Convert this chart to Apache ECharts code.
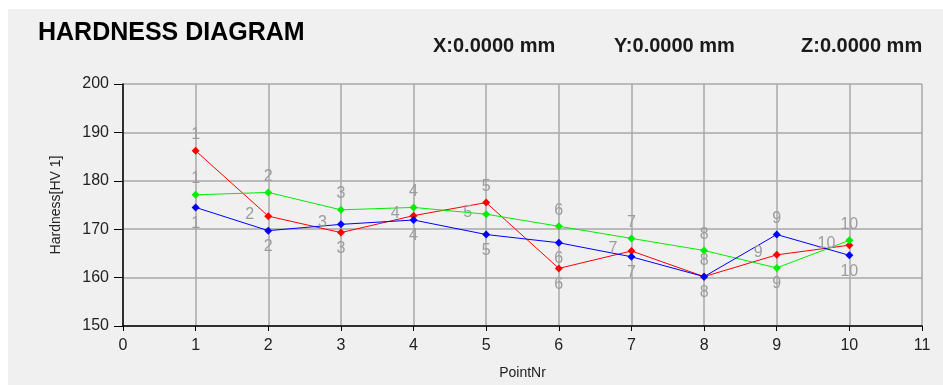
<!DOCTYPE html>
<html>
<head>
<meta charset="utf-8">
<title>Hardness diagram</title>
<script src="https://cdn.jsdelivr.net/npm/echarts@6/dist/echarts.min.js"></script>
<style>
  html, body { margin: 0; padding: 0; background: #ffffff; }
  #chart { width: 943px; height: 385px; }
</style>
</head>
<body>
<div id="chart"></div>
<script>
// Measurement points along the specimen
const pointNr = [1, 2, 3, 4, 5, 6, 7, 8, 9, 10];

// Hardness readings (HV 1) for the three traverses
const redSeries   = [186.2, 172.7, 169.3, 172.8, 175.5, 161.9, 165.5, 160.2, 164.7, 166.7];
const greenSeries = [177.1, 177.6, 174.0, 174.5, 173.1, 170.6, 168.1, 165.6, 162.0, 167.7];
const blueSeries  = [174.5, 169.7, 171.0, 171.9, 168.9, 167.2, 164.3, 160.2, 168.9, 164.6];

// Axis ticks
const xTicks = [0, 1, 2, 3, 4, 5, 6, 7, 8, 9, 10, 11];
const yTicks = [150, 160, 170, 180, 190, 200];

// Where each point-number label sits relative to its marker
const redLabelPos   = ['top', 'left', 'bottom', 'left', 'top', 'bottom', 'left', 'top', 'left', 'left'];
const greenLabelPos = ['top', 'top', 'top', 'top', 'left', 'top', 'top', 'top', 'bottom', 'top'];
const blueLabelPos  = ['bottom', 'bottom', 'left', 'bottom', 'bottom', 'bottom', 'bottom', 'bottom', 'top', 'bottom'];

const FONT = '"Liberation Sans", Arial, sans-serif';

function buildSeries(name, values, color, positions) {
  return {
    name: name,
    type: 'line',
    symbol: 'diamond',
    symbolSize: 8,
    lineStyle: { color: color, width: 1 },
    itemStyle: { color: color },
    emphasis: { disabled: true },
    animation: false,
    data: values.map(function (v, i) {
      const pos = positions[i];
      return {
        value: [pointNr[i], v],
        label: {
          show: true,
          position: pos,
          distance: pos === 'left' ? 10 : 4,
          offset: pos === 'left' ? [0, -2] : [0, 0],
          formatter: String(pointNr[i]),
          color: '#9c9c9c',
          fontSize: 16,
          fontFamily: FONT,
          textBorderWidth: 0
        }
      };
    })
  };
}

const chart = echarts.init(document.getElementById('chart'), null, { renderer: 'canvas' });

chart.setOption({
  backgroundColor: '#ffffff',
  animation: false,
  graphic: [
    {
      type: 'rect',
      z: -10,
      silent: true,
      shape: { x: 8, y: 9, width: 935, height: 376 },
      style: { fill: '#f0f0f0' }
    },
    {
      type: 'text', left: 433, top: 36,
      style: { text: 'X:0.0000 mm', font: 'bold 20px ' + FONT, fill: '#1a1a1a' }
    },
    {
      type: 'text', left: 614, top: 36,
      style: { text: 'Y:0.0000 mm', font: 'bold 20px ' + FONT, fill: '#1a1a1a' }
    },
    {
      type: 'text', left: 801, top: 36,
      style: { text: 'Z:0.0000 mm', font: 'bold 20px ' + FONT, fill: '#1a1a1a' }
    }
  ],
  title: {
    text: 'HARDNESS DIAGRAM',
    left: 38,
    top: 21,
    padding: 0,
    textStyle: { fontSize: 25, fontWeight: 'bold', color: '#000000', fontFamily: FONT }
  },
  grid: { left: 123, top: 84, width: 799, height: 245, containLabel: false },
  xAxis: {
    type: 'value',
    min: xTicks[0],
    max: xTicks[xTicks.length - 1],
    interval: 1,
    name: 'PointNr',
    nameLocation: 'middle',
    nameGap: 40,
    nameTextStyle: { fontSize: 14, color: '#222222', fontFamily: FONT },
    axisLine: { show: true, onZero: false, lineStyle: { color: '#000000', width: 1.5 } },
    axisTick: { show: true, length: 5, lineStyle: { color: '#000000' } },
    axisLabel: { fontSize: 16, color: '#222222', fontFamily: FONT, margin: 12 },
    splitLine: { show: true, lineStyle: { color: '#a8a8a8', width: 1.5 } }
  },
  yAxis: {
    type: 'value',
    min: yTicks[0],
    max: yTicks[yTicks.length - 1],
    interval: 10,
    name: 'Hardness[HV 1]',
    nameLocation: 'middle',
    nameGap: 60,
    nameTextStyle: { fontSize: 14, color: '#222222', fontFamily: FONT },
    axisLine: { show: true, lineStyle: { color: '#000000', width: 1.5 } },
    axisTick: { show: true, length: 9, lineStyle: { color: '#000000' } },
    axisLabel: { fontSize: 16, color: '#222222', fontFamily: FONT, margin: 14 },
    splitLine: { show: true, lineStyle: { color: '#a8a8a8', width: 1.5 } }
  },
  series: [
    buildSeries('Series 1', redSeries, '#ff0000', redLabelPos),
    buildSeries('Series 2', greenSeries, '#00ee00', greenLabelPos),
    buildSeries('Series 3', blueSeries, '#0000ff', blueLabelPos)
  ]
});
</script>
</body>
</html>
